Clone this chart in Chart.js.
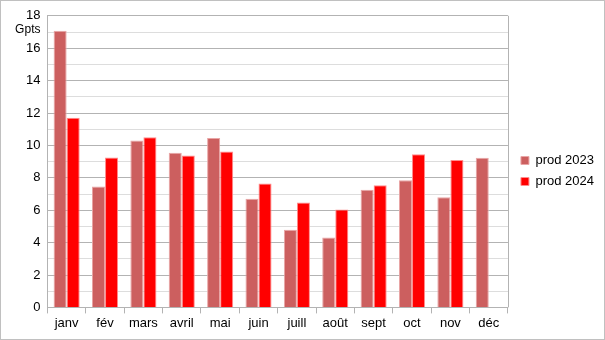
<!DOCTYPE html>
<html>
<head>
<meta charset="utf-8">
<script src="https://cdn.jsdelivr.net/npm/chart.js@4"></script>
<style>
  html, body { margin: 0; padding: 0; background: #fff; }
  #wrap {
    position: relative;
    width: 603px;
    height: 338px;
    border: 1px solid #c0c0c0;
  }
</style>
</head>
<body>
<div id="wrap"><canvas id="prod-chart"></canvas></div>
<script>
// Monthly production, in Gpts
const months = ['janv', 'fév', 'mars', 'avril', 'mai', 'juin', 'juill', 'août', 'sept', 'oct', 'nov', 'déc'];
const prod2023 = [17.08, 7.46, 10.3, 9.55, 10.46, 6.7, 4.79, 4.32, 7.26, 7.85, 6.8, 9.23];
const prod2024 = [11.7, 9.25, 10.5, 9.37, 9.62, 7.65, 6.47, 6.04, 7.54, 9.45, 9.1, null];
const yUnit = 'Gpts';

const FONT = 'Liberation Sans, Arial, sans-serif';

// Draws the unit label under the top tick and the right edge of the plot
const extras = {
  id: 'extras',
  afterDraw(chart) {
    const { ctx, chartArea } = chart;
    ctx.save();
    ctx.strokeStyle = '#b3b3b3';
    ctx.lineWidth = 1;
    ctx.beginPath();
    ctx.moveTo(Math.round(chartArea.right) + 0.5, chartArea.top);
    ctx.lineTo(Math.round(chartArea.right) + 0.5, chartArea.bottom);
    ctx.stroke();

    ctx.fillStyle = '#000';
    ctx.font = '12px ' + FONT;
    ctx.textAlign = 'right';
    ctx.textBaseline = 'middle';
    ctx.fillText(yUnit, chartArea.left - 7, chartArea.top + 14);
    ctx.restore();
  }
};

new Chart(document.getElementById('prod-chart'), {
  type: 'bar',
  data: {
    labels: months,
    datasets: [{
      label: 'prod 2023',
      data: prod2023,
      backgroundColor: '#cc5f5f',
      borderColor: '#e9a5a5',
      borderWidth: 1,
      categoryPercentage: 0.68,
      barPercentage: 1.0,
    }, {
      label: 'prod 2024',
      data: prod2024,
      backgroundColor: '#ff0000',
      borderColor: '#ff8c8c',
      borderWidth: 1,
      categoryPercentage: 0.68,
      barPercentage: 1.0,
    }]
  },
  options: {
    responsive: true,
    maintainAspectRatio: false,
    animation: false,
    layout: {
      padding: { left: 18, right: 0, top: 8, bottom: 6 }
    },
    plugins: {
      legend: {
        position: 'right',
        labels: {
          boxWidth: 8,
          boxHeight: 8,
          padding: 8,
          color: '#000',
          font: { family: FONT, size: 13 },
        }
      },
      tooltip: { enabled: false }
    },
    scales: {
      x: {
        grid: {
          offset: true,
          drawOnChartArea: false,
          color: '#b3b3b3',
          tickLength: 6,
        },
        border: { color: '#b3b3b3' },
        ticks: {
          color: '#000',
          font: { family: FONT, size: 13 },
          padding: 2,
        }
      },
      y: {
        min: 0,
        max: 18,
        grid: {
          drawTicks: false,
          // even values are the major lines, odd ones are lighter
          color: ctx => (ctx.tick && ctx.tick.value % 2 === 0) ? '#b3b3b3' : '#dddddd',
        },
        border: { color: '#b3b3b3' },
        ticks: {
          stepSize: 1,
          autoSkip: false,
          color: '#000',
          padding: 7,
          font: { family: FONT, size: 13 },
          callback: value => (value % 2 === 0 ? value : ''),
        }
      },
      // empty axis, only keeps a small gap between the plot and the legend
      spacer: {
        type: 'linear',
        position: 'right',
        grid: { display: false },
        border: { display: false },
        ticks: { display: false },
        afterFit: scale => { scale.width = 5; },
      }
    }
  },
  plugins: [extras]
});
</script>
</body>
</html>
